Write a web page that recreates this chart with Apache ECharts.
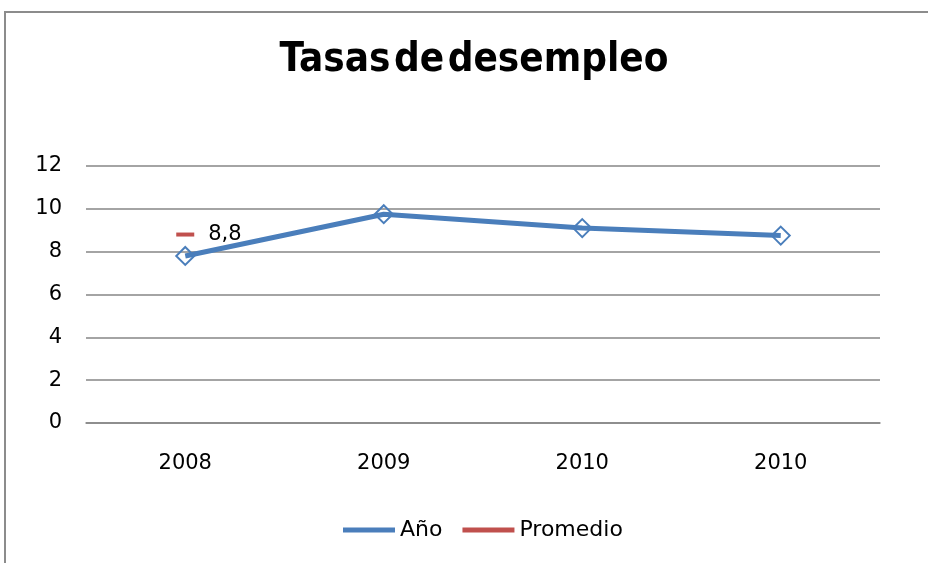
<!DOCTYPE html>
<html><head><meta charset="utf-8">
<script src="https://cdn.jsdelivr.net/npm/echarts@6/dist/echarts.min.js"></script>
<style>html,body{margin:0;padding:0;background:#fff}#c{width:928px;height:563px}</style>
</head><body><div id="c"></div>
<script>
const categories = ['2008', '2009', '2010', '2010'];
const anoValues = [7.8, 9.75, 9.1, 8.75];
const promedioValues = [8.8, null, null, null];
const yTicks = { min: 0, max: 12, interval: 2 };

const chart = echarts.init(document.getElementById('c'), null, { renderer: 'canvas' });
chart.setOption({
  backgroundColor: '#fff',
  animation: false,
  title: {
    text: 'Tasas\u200Ade\u200Adesempleo',
    left: 469, textAlign: 'center', top: 36,
    textStyle: { fontFamily: 'DejaVu Sans Condensed', fontWeight: 'bold', fontSize: 40, color: '#000' }
  },
  graphic: [{
    type: 'rect', shape: { x: 5, y: 12, width: 940, height: 570 },
    style: { fill: 'none', stroke: '#8c8c8c', lineWidth: 2 }, z: -1
  }],
  grid: { left: 86, right: 48, top: 166, bottom: 140 },
  legend: {
    bottom: 17, left: 338, itemGap: 20, itemWidth: 52, itemHeight: 5,
    textStyle: { fontFamily: 'DejaVu Sans', fontSize: 22, color: '#000' },
    data: [
      { name: 'Año', icon: 'rect', itemStyle: { color: '#4a7ebb', borderWidth: 0 } },
      { name: 'Promedio', icon: 'rect', itemStyle: { color: '#c0504d', borderWidth: 0 } }
    ]
  },
  xAxis: {
    type: 'category', data: categories, boundaryGap: true,
    axisLine: { lineStyle: { color: '#868686', width: 1.5 } },
    axisTick: { show: false },
    axisLabel: { fontFamily: 'DejaVu Sans', fontSize: 21, color: '#000', margin: 30 }
  },
  yAxis: {
    type: 'value', min: yTicks.min, max: yTicks.max, interval: yTicks.interval,
    axisLine: { show: false }, axisTick: { show: false },
    axisLabel: { fontFamily: 'DejaVu Sans', fontSize: 21, color: '#000', margin: 24 },
    splitLine: { lineStyle: { color: '#868686', width: 1.5 } }
  },
  series: [
    {
      name: 'Año', type: 'line', data: anoValues,
      lineStyle: { color: '#4a7ebb', width: 5 },
      itemStyle: { color: 'rgba(255,255,255,0)', borderColor: '#4a7ebb', borderWidth: 2 },
      symbol: 'diamond', symbolSize: 18, showSymbol: true, z: 3
    },
    {
      name: 'Promedio', type: 'line', data: promedioValues,
      lineStyle: { color: '#c0504d', width: 5 },
      itemStyle: { color: '#c0504d' },
      symbol: 'rect', symbolSize: [18, 4],
      label: { show: true, position: 'right', distance: 14, fontFamily: 'DejaVu Sans', fontSize: 21, color: '#000',
        formatter: p => String(p.value).replace('.', ',') },
      z: 4
    }
  ]
});
</script></body></html>
